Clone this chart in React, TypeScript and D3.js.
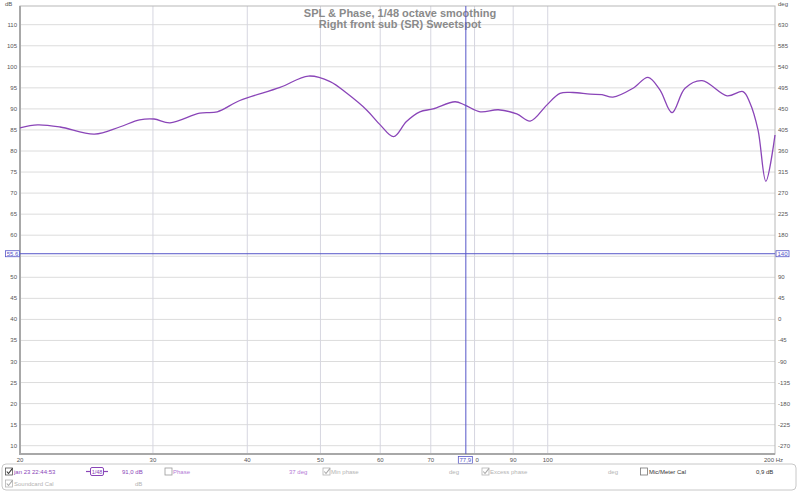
import React from "react";
import * as d3 from "d3";

const titleLines = ["SPL & Phase, 1/48 octave smoothing", "Right front sub (SR) Sweetspot"];
const freqs = [20, 21.1, 22.6, 25.1, 27.1, 28.8, 30.1, 31.6, 34.6, 36.5, 39.1, 44.2, 48.2, 51.5, 54.2, 57.6, 60.0, 62.5, 65.0, 67.7, 70.5, 75.4, 77.7, 81.4, 86.0, 91.0, 94.8, 99.7, 103.8, 108, 113.8, 118, 122, 129.7, 135.8, 140.8, 146.1, 152.0, 160.1, 172.8, 181.4, 185.3, 189.9, 194.5, 200];
const spl = [85.5, 86.2, 85.7, 84.0, 85.7, 87.4, 87.6, 86.7, 89.0, 89.3, 92.0, 95.1, 97.8, 96.5, 93.7, 89.7, 86.2, 83.4, 87.0, 89.3, 90.0, 91.7, 90.9, 89.3, 89.8, 88.8, 87.1, 90.9, 93.7, 93.9, 93.5, 93.4, 92.8, 94.9, 97.5, 94.5, 89.1, 94.9, 96.7, 93.1, 94.1, 91.4, 85.0, 72.8, 83.8];
const xTicks = [20, 30, 40, 50, 60, 70, 80, 90, 100, 200];
const xTickLabels = ["20", "30", "40", "50", "60", "70", "80", "90", "100", "200 Hz"];
const dbTicks = d3.range(10, 111, 5);
const degTicks = d3.range(-270, 631, 45);
const cursorFreq = "77,9";
const cursorFreqValue = 77.9;
const cursorDb = 55.6;
const cursorDbLabel = "55,6";
const cursorDeg = "140";

export default function App() {
  const W = 800, H = 492;
  const L = 20, R = 775, T = 6, B = 454;
  const x = d3.scaleLog().domain([20, 200]).range([L, R]);
  const y = d3.scaleLinear().domain([10, 110]).range([445.7, 24.7]);
  const yDeg = d3.scaleLinear().domain([-270, 630]).range([445.7, 24.7]);
  const line = d3.line<number>()
    .x((_, i) => x(freqs[i]))
    .y((d) => y(d))
    .curve(d3.curveCatmullRom.alpha(0.5));
  const font = "'Liberation Sans', Arial, sans-serif";
  const tickFs = 6;
  const cx = x(cursorFreqValue);
  const cy = y(cursorDb);
  const purple = "#8a45b8";
  const gray = "#b4b4b4";
  const blue = "#5656c8";

  const checkbox = (px: number, py: number, checked: boolean, col: string) => (
    <g>
      <rect x={px + 0.5} y={py + 0.5} width={7} height={7} fill="#fff" stroke={col} strokeWidth={0.8} />
      {checked && <path d={`M${px + 1.8},${py + 4} L${px + 3.5},${py + 6} L${px + 7.5},${py + 0.8}`} fill="none" stroke={col === gray ? "#a8a8a8" : "#333"} strokeWidth={1.1} />}
    </g>
  );

  return (
    <svg width={W} height={H} style={{ position: "absolute", left: 0, top: 0, background: "#fff" }} fontFamily={font}>
      <rect x={0} y={0} width={W} height={H} fill="#fff" />
      {/* grid */}
      {dbTicks.map((t) => (
        <line key={"h" + t} x1={L} x2={R} y1={y(t)} y2={y(t)} stroke="#dcdcdc" strokeWidth={1} />
      ))}
      {xTicks.slice(1, -1).map((t) => (
        <line key={"v" + t} x1={x(t)} x2={x(t)} y1={T} y2={B} stroke="#d6d6e0" strokeWidth={1} />
      ))}
      {/* border */}
      <rect x={L} y={T} width={R - L} height={B - T} fill="none" stroke="#b8b8b8" strokeWidth={1} />
      <line x1={L} x2={L} y1={T} y2={B + 1} stroke="#a8a8a8" strokeWidth={2} />
      <line x1={L - 1} x2={R} y1={B} y2={B} stroke="#a8a8a8" strokeWidth={2} />
      {/* title */}
      {titleLines.map((t, i) => (
        <text key={t} x={400} y={17 + i * 11} textAnchor="middle" fontSize={11} fontWeight="bold" fill="#8a8a8a">{t}</text>
      ))}
      {/* axis labels */}
      <text x={5} y={6} fontSize={tickFs} fill="#555">dB</text>
      <text x={778} y={6} fontSize={tickFs} fill="#555">deg</text>
      {dbTicks.filter((t) => Math.abs(y(t) - cy) > 5).map((t) => (
        <text key={"l" + t} x={17} y={y(t) + 2} textAnchor="end" fontSize={tickFs} fill="#555">{t}</text>
      ))}
      {degTicks.filter((t) => Math.abs(yDeg(t) - cy) > 5).map((t) => (
        <text key={"r" + t} x={778} y={yDeg(t) + 2} fontSize={tickFs} fill="#555">{t}</text>
      ))}
      {xTicks.map((t, i) => (
        <text key={"x" + t} x={t === 200 ? 783 : t === 80 ? x(t) + 2.5 : x(t)} y={461.5} textAnchor={t === 200 ? "end" : "middle"} fontSize={tickFs} fill="#555">{t === 80 ? "0" : xTickLabels[i]}</text>
      ))}
      {/* curve */}
      <path d={line(spl) || ""} fill="none" stroke={purple} strokeWidth={1.3} />
      {/* cursors */}
      <line x1={L} x2={R} y1={cy} y2={cy} stroke={blue} strokeWidth={1} />
      <line x1={cx} x2={cx} y1={T} y2={B} stroke={blue} strokeWidth={1} />
      <rect x={5.5} y={cy - 3} width={14} height={6} fill="#fff" stroke={blue} strokeWidth={0.8} />
      <text x={12.5} y={cy + 2} textAnchor="middle" fontSize={tickFs} fill={blue}>{cursorDbLabel}</text>
      <rect x={776} y={cy - 3} width={13} height={6} fill="#fff" stroke={blue} strokeWidth={0.8} />
      <text x={782.5} y={cy + 2} textAnchor="middle" fontSize={tickFs} fill={blue}>{cursorDeg}</text>
      <rect x={cx - 7.5} y={456.5} width={14} height={7} fill="#fff" stroke={blue} strokeWidth={0.8} />
      <text x={cx - 0.5} y={461.8} textAnchor="middle" fontSize={tickFs} fill={blue}>{cursorFreq}</text>
      {/* legend */}
      <rect x={2} y={464} width={794} height={26} rx={4} fill="#fff" stroke="#c8c8c8" strokeWidth={1} />
      {checkbox(5, 467.5, true, "#555")}
      <text x={14} y={474} fontSize={tickFs} fill={purple}>jan 23 22:44:53</text>
      <line x1={86} x2={108} y1={471.5} y2={471.5} stroke={purple} strokeWidth={1.2} />
      <rect x={90.5} y={467.5} width={13} height={8} rx={1.5} fill="#fff" stroke={purple} strokeWidth={1} />
      <text x={97} y={474} textAnchor="middle" fontSize={5.5} fill={purple}>1/48</text>
      <text x={122} y={474} fontSize={tickFs} fill={purple}>91,0 dB</text>
      {checkbox(164.5, 467.5, false, "#999")}
      <text x={173} y={474} fontSize={tickFs} fill="#b47ad6">Phase</text>
      <text x={289} y={474} fontSize={tickFs} fill="#b47ad6">37 deg</text>
      {checkbox(322.5, 467.5, true, gray)}
      <text x={331} y={474} fontSize={tickFs} fill={gray}>Min phase</text>
      <text x={449} y={474} fontSize={tickFs} fill={gray}>deg</text>
      {checkbox(481.5, 467.5, true, gray)}
      <text x={490} y={474} fontSize={tickFs} fill={gray}>Excess phase</text>
      <text x={608} y={474} fontSize={tickFs} fill={gray}>deg</text>
      {checkbox(640, 467.5, false, "#777")}
      <text x={649} y={474} fontSize={tickFs} fill="#333">Mic/Meter Cal</text>
      <text x={756} y={474} fontSize={tickFs} fill="#333">0,9 dB</text>
      {checkbox(5, 479.5, true, gray)}
      <text x={14} y={486} fontSize={tickFs} fill={gray}>Soundcard Cal</text>
      <text x={135} y={486} fontSize={tickFs} fill={gray}>dB</text>
    </svg>
  );
}
